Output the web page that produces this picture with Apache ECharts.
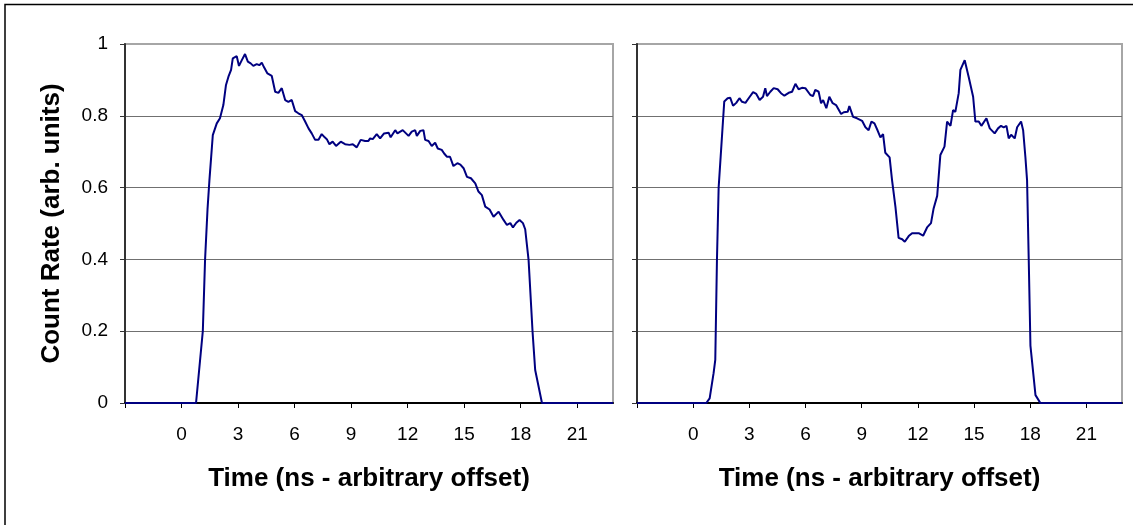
<!DOCTYPE html>
<html>
<head>
<meta charset="utf-8">
<script src="https://cdn.jsdelivr.net/npm/echarts@6/dist/echarts.min.js"></script>
<style>
html,body{margin:0;padding:0;background:#fff;}
#chart{width:1133px;height:525px;}
</style>
</head>
<body>
<div id="chart"></div>
<script>
// ---- data ----
const leftTime = [-3,0.77,1.13,1.25,1.38,1.48,1.66,1.87,2.04,2.22,2.36,2.49,2.63,2.72,2.93,3.05,3.2,3.37,3.52,3.67,3.81,3.99,4.13,4.26,4.38,4.56,4.79,4.97,5.14,5.32,5.5,5.67,5.85,6.03,6.2,6.38,6.56,6.74,6.91,7.09,7.27,7.44,7.6,7.71,7.85,8.02,8.2,8.45,8.68,8.91,9.09,9.3,9.51,9.74,9.92,10.01,10.15,10.36,10.54,10.75,10.99,11.1,11.34,11.46,11.74,12.05,12.22,12.4,12.49,12.67,12.84,12.93,13.11,13.28,13.46,13.6,13.81,13.94,14.08,14.25,14.43,14.64,14.8,14.97,15.15,15.36,15.59,15.76,15.94,16.12,16.35,16.56,16.83,17.09,17.27,17.45,17.59,17.77,17.94,18.12,18.24,18.42,18.63,18.77,19.13,22.9];
const leftRate = [0,0,0.2,0.4,0.54,0.62,0.746,0.779,0.793,0.83,0.886,0.909,0.928,0.96,0.966,0.939,0.955,0.972,0.951,0.946,0.939,0.944,0.941,0.948,0.935,0.918,0.911,0.867,0.864,0.877,0.844,0.839,0.844,0.813,0.807,0.802,0.784,0.765,0.751,0.733,0.733,0.749,0.74,0.735,0.721,0.728,0.716,0.728,0.721,0.719,0.721,0.712,0.733,0.73,0.73,0.737,0.735,0.749,0.737,0.751,0.753,0.74,0.76,0.751,0.76,0.744,0.756,0.76,0.744,0.758,0.76,0.733,0.73,0.716,0.725,0.709,0.705,0.695,0.686,0.686,0.66,0.668,0.664,0.654,0.63,0.626,0.612,0.589,0.579,0.547,0.539,0.519,0.533,0.51,0.496,0.501,0.489,0.502,0.51,0.501,0.484,0.398,0.199,0.092,0,0];

const rightTime = [-3,0.7,0.88,1.09,1.18,1.27,1.36,1.66,1.84,1.98,2.13,2.3,2.47,2.61,2.79,3.02,3.2,3.37,3.55,3.73,3.85,3.94,4.12,4.3,4.51,4.69,4.87,5.1,5.28,5.36,5.46,5.63,5.81,5.99,6.26,6.4,6.52,6.7,6.83,6.94,7.11,7.27,7.45,7.63,7.9,8.04,8.25,8.34,8.54,8.75,9.02,9.2,9.37,9.52,9.68,9.85,10.0,10.14,10.26,10.49,10.62,10.8,10.97,11.16,11.3,11.51,11.69,12.04,12.28,12.49,12.7,12.84,13.03,13.2,13.42,13.56,13.74,13.88,14.0,14.18,14.27,14.5,14.71,14.95,15.07,15.25,15.39,15.66,15.84,16.1,16.28,16.44,16.58,16.73,16.85,16.98,17.08,17.17,17.3,17.51,17.62,17.74,17.83,17.92,18.01,18.28,18.54,22.9];
const rightRate = [0,0,0.013,0.083,0.12,0.4,0.6,0.84,0.849,0.85,0.828,0.836,0.849,0.839,0.836,0.853,0.866,0.861,0.844,0.853,0.877,0.855,0.867,0.877,0.874,0.863,0.856,0.864,0.867,0.862,0.889,0.874,0.878,0.877,0.858,0.855,0.872,0.867,0.835,0.844,0.821,0.853,0.835,0.83,0.805,0.81,0.811,0.827,0.797,0.793,0.786,0.768,0.76,0.784,0.779,0.759,0.74,0.749,0.697,0.684,0.621,0.547,0.46,0.456,0.449,0.465,0.473,0.473,0.466,0.489,0.501,0.542,0.577,0.691,0.714,0.784,0.772,0.816,0.811,0.863,0.928,0.955,0.909,0.853,0.784,0.784,0.772,0.793,0.765,0.751,0.765,0.772,0.768,0.772,0.737,0.747,0.745,0.737,0.768,0.784,0.76,0.686,0.621,0.398,0.16,0.022,0,0];

const xTickValues = [-3,0,3,6,9,12,15,18,21];
const xLabelValues = [0,3,6,9,12,15,18,21];
const xTitle = 'Time (ns - arbitrary offset)';
const yTitle = 'Count Rate (arb. units)';

// ---- chart ----
const FONT = "'Liberation Sans', Arial, sans-serif";
const zip = (a, b) => a.map((v, i) => [v, b[i]]);

function xAxis(idx) {
  return {
    type: 'value', gridIndex: idx, min: -3, max: 22.9, interval: 3,
    name: xTitle, nameLocation: 'middle', nameGap: 63,
    nameTextStyle: {fontFamily: FONT, fontSize: 26, fontWeight: 'bold', color: '#000'},
    axisLine: {show: true, onZero: false, lineStyle: {color: '#000', width: 2}},
    axisTick: {show: true, inside: false, length: 5, customValues: xTickValues, lineStyle: {color: '#000', width: 1}},
    axisLabel: {show: true, customValues: xLabelValues, margin: 22, fontFamily: FONT, fontSize: 19, color: '#000'},
    splitLine: {show: false}
  };
}
function yAxis(idx, labels) {
  return {
    type: 'value', gridIndex: idx, min: 0, max: 1, interval: 0.2,
    name: labels ? yTitle : '', nameLocation: 'middle', nameGap: 60, nameRotate: 90,
    nameTextStyle: {fontFamily: FONT, fontSize: 26, fontWeight: 'bold', color: '#000'},
    axisLine: {show: true, onZero: false, lineStyle: {color: '#333', width: 2}},
    axisTick: {show: true, inside: false, length: 5, lineStyle: {color: '#333', width: 1}},
    axisLabel: {show: labels, margin: 17, fontFamily: FONT, fontSize: 19, color: '#000',
      formatter: v => (v === 0 || v === 1) ? String(v) : v.toFixed(1)},
    splitLine: {show: true, lineStyle: {color: ['#707070','#707070','#707070','#707070','#707070','#a6a6a6'], width: 1}}
  };
}
const lineStyle = {color: '#000080', width: 2};

const chart = echarts.init(document.getElementById('chart'), null, {renderer: 'canvas'});
chart.setOption({
  animation: false,
  backgroundColor: '#fff',
  grid: [
    {left: 125, top: 44, width: 488, height: 359, show: true, borderColor: '#a6a6a6', borderWidth: 2, backgroundColor: '#fff'},
    {left: 637, top: 44, width: 485, height: 359, show: true, borderColor: '#a6a6a6', borderWidth: 2, backgroundColor: '#fff'}
  ],
  xAxis: [xAxis(0), xAxis(1)],
  yAxis: [yAxis(0, true), yAxis(1, false)],
  series: [
    {type: 'line', xAxisIndex: 0, yAxisIndex: 0, data: zip(leftTime, leftRate), showSymbol: false, symbol: 'none', lineStyle: lineStyle, itemStyle: {color: '#000080'}},
    {type: 'line', xAxisIndex: 1, yAxisIndex: 1, data: zip(rightTime, rightRate), showSymbol: false, symbol: 'none', lineStyle: lineStyle, itemStyle: {color: '#000080'}}
  ],
  graphic: [
    {type: 'rect', shape: {x: 5, y: 4.5, width: 1140, height: 540}, style: {fill: 'none', stroke: '#000', lineWidth: 1.5}, silent: true, z: 100}
  ]
});
</script>
</body>
</html>
